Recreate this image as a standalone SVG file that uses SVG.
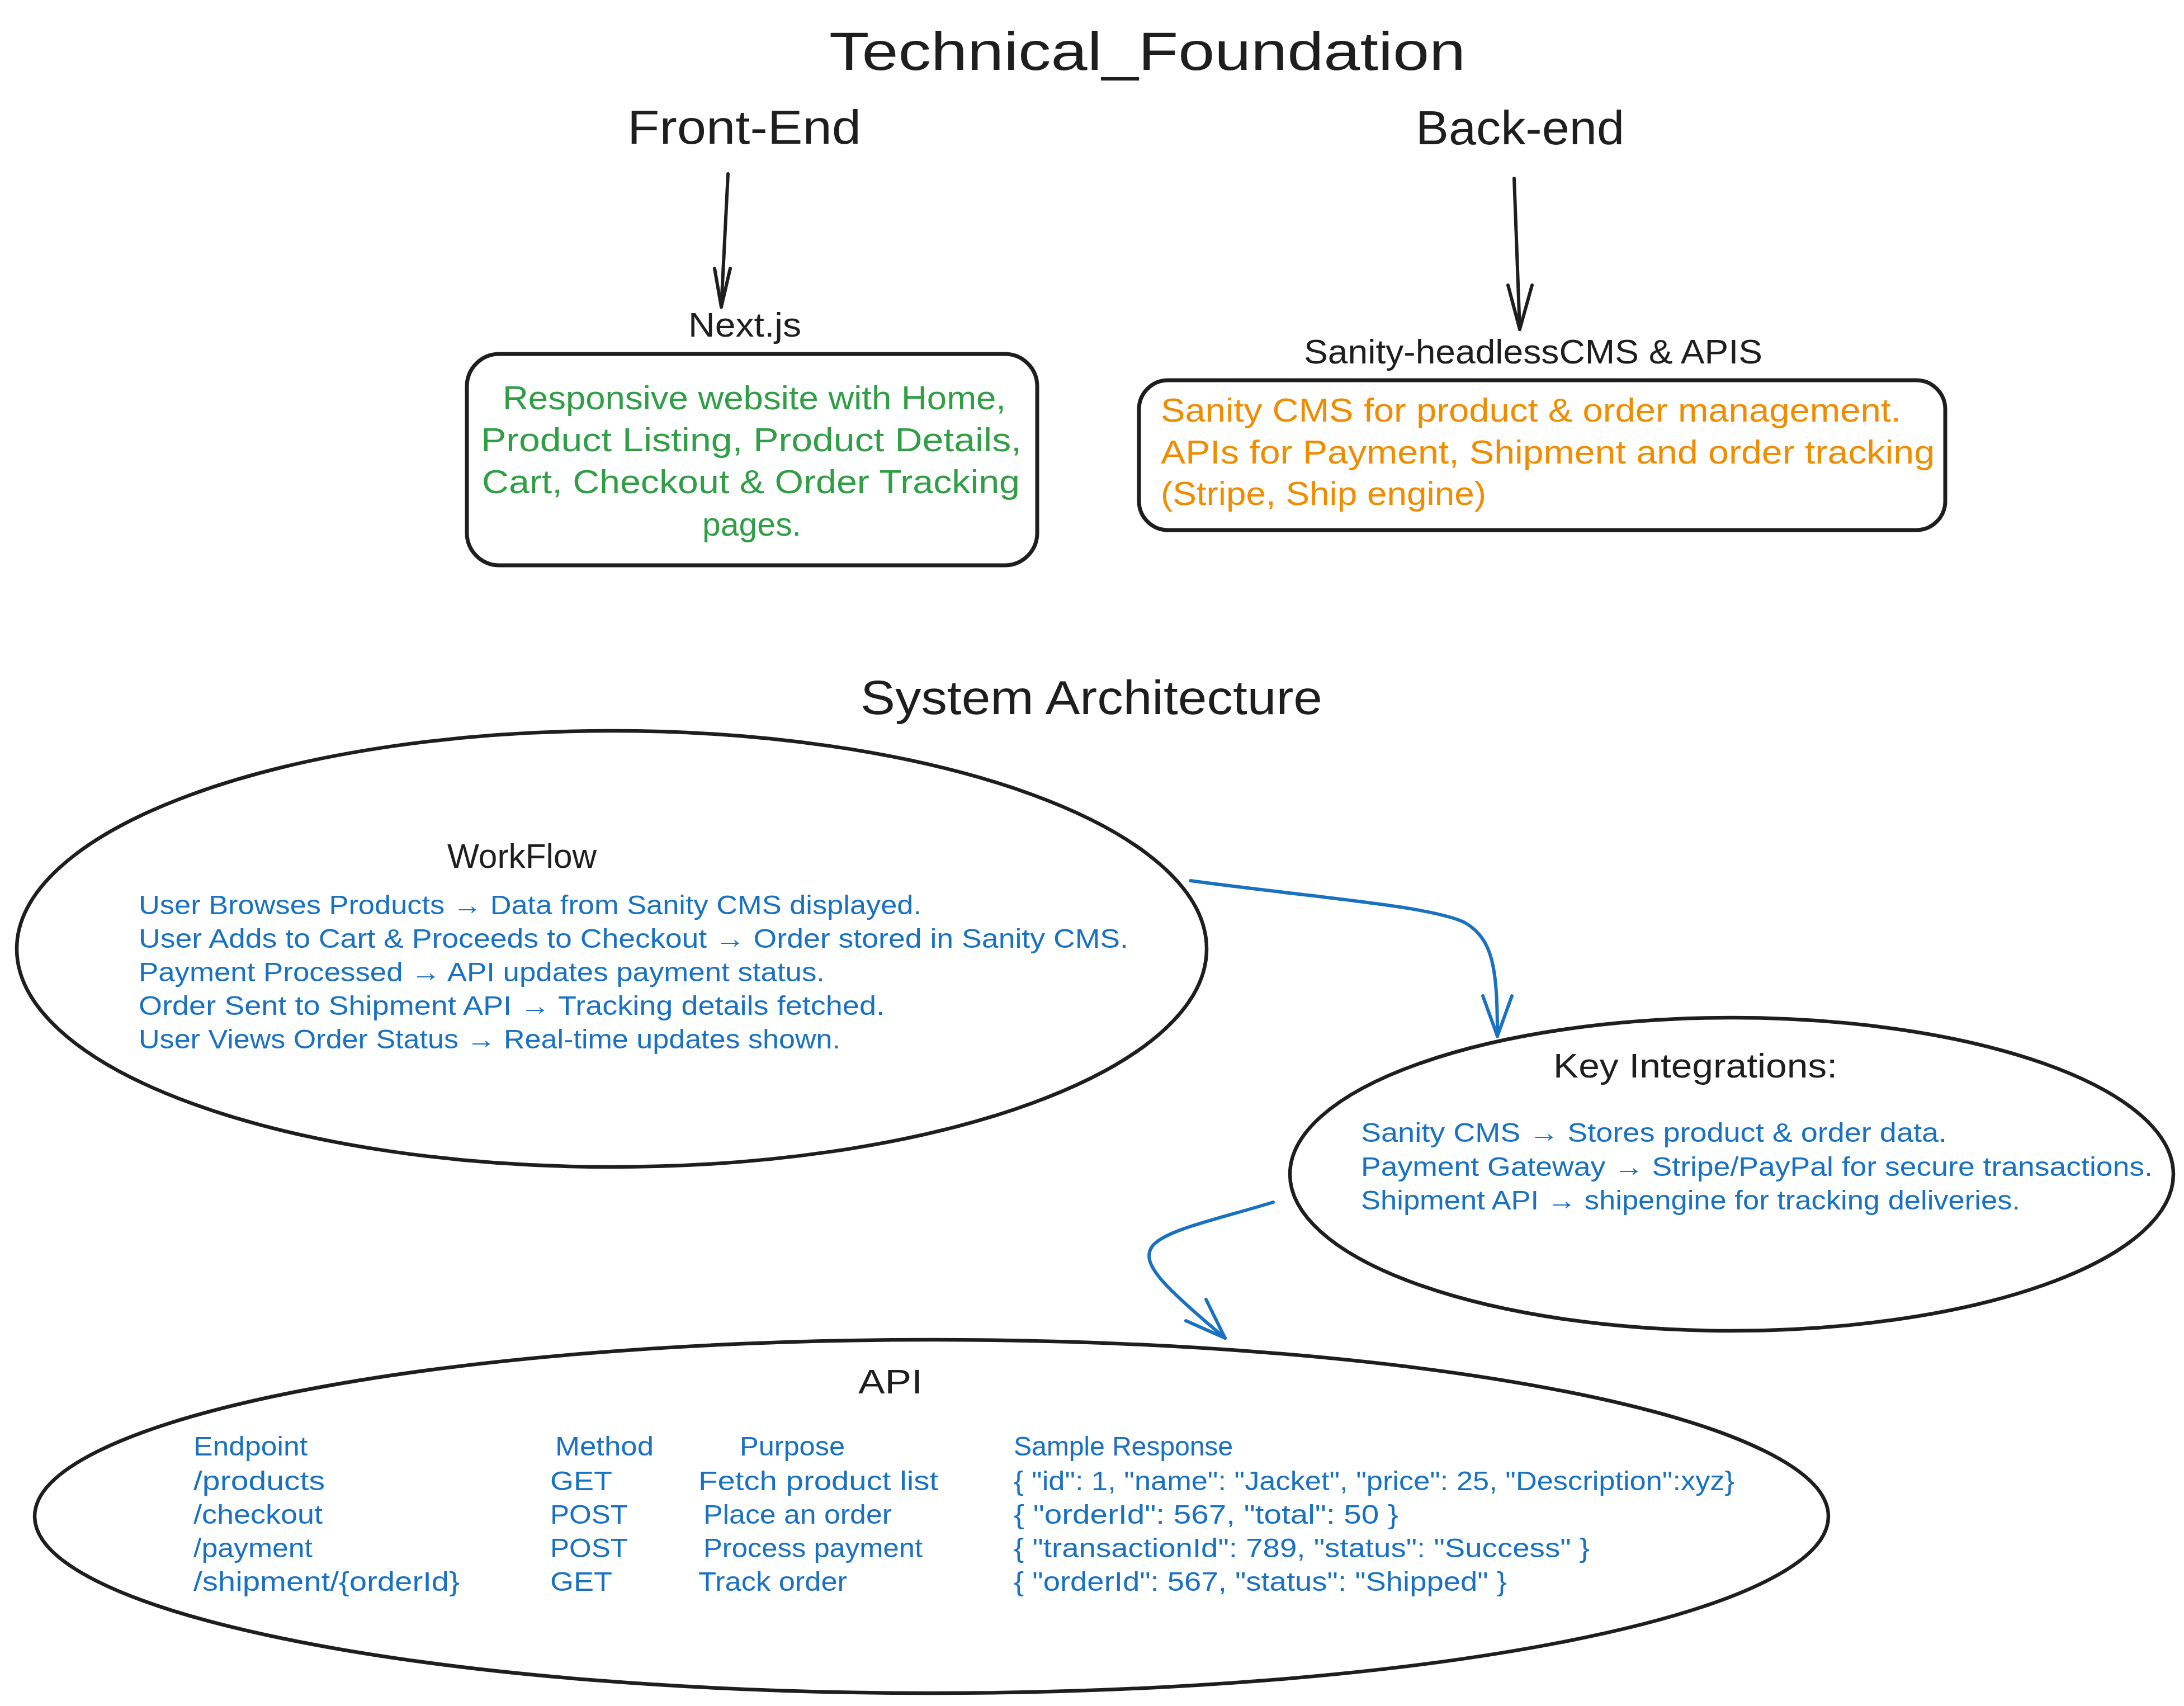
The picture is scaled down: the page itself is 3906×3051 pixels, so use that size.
<svg xmlns="http://www.w3.org/2000/svg" width="3906" height="3051" viewBox="0 0 3906 3051">
<style>
text { font-family: "Liberation Sans", "DejaVu Sans", sans-serif; }
.k { fill: #1e1e1e; }
.g { fill: #2f9e44; }
.o { fill: #f08c00; }
.b { fill: #1971c2; }
.h1 { font-size: 96px; }
.h2 { font-size: 86px; }
.h3 { font-size: 62px; }
.t60 { font-size: 60px; }
.t48 { font-size: 48px; }
.shape { fill: #ffffff; stroke: #1e1e1e; stroke-width: 7; }
.ell { fill: none; stroke: #1e1e1e; stroke-width: 6.5; }
.ck { fill: none; stroke: #1e1e1e; stroke-width: 6; stroke-linecap: round; stroke-linejoin: round; }
.cb { fill: none; stroke: #1971c2; stroke-width: 6; stroke-linecap: round; stroke-linejoin: round; }
</style>
<rect width="3906" height="3051" fill="#ffffff"/>

<g id="title">
<text class="k h1" x="1483" y="125" textLength="1138" lengthAdjust="spacingAndGlyphs">Technical_Foundation</text>
</g>

<g id="front-end">
<text class="k h2" x="1122" y="257" textLength="418" lengthAdjust="spacingAndGlyphs">Front-End</text>
</g>

<g id="back-end">
<text class="k h2" x="2532" y="258" textLength="373" lengthAdjust="spacingAndGlyphs">Back-end</text>
</g>

<g id="nextjs">
<text class="k h3" x="1231" y="602" textLength="202" lengthAdjust="spacingAndGlyphs">Next.js</text>
<rect class="shape" x="835" y="633" width="1020" height="378" rx="58" ry="58"/>
<text class="g t60" x="899" y="732" textLength="900" lengthAdjust="spacingAndGlyphs">Responsive website with Home,</text>
<text class="g t60" x="860" y="807" textLength="967" lengthAdjust="spacingAndGlyphs">Product Listing, Product Details,</text>
<text class="g t60" x="862" y="882" textLength="962" lengthAdjust="spacingAndGlyphs">Cart, Checkout &amp; Order Tracking</text>
<text class="g t60" x="1256" y="958" textLength="177" lengthAdjust="spacingAndGlyphs">pages.</text>
</g>

<g id="sanity">
<text class="k h3" x="2332" y="650" textLength="820" lengthAdjust="spacingAndGlyphs">Sanity-headlessCMS &amp; APIS</text>
<rect class="shape" x="2037" y="680" width="1442" height="268" rx="52" ry="52"/>
<text class="o t60" x="2076" y="754" textLength="1324" lengthAdjust="spacingAndGlyphs">Sanity CMS for product &amp; order management.</text>
<text class="o t60" x="2076" y="829" textLength="1384" lengthAdjust="spacingAndGlyphs">APIs for Payment, Shipment and order tracking</text>
<text class="o t60" x="2076" y="903" textLength="582" lengthAdjust="spacingAndGlyphs">(Stripe, Ship engine)</text>
</g>

<g id="system-architecture">
<text class="k h2" x="1539" y="1277" textLength="826" lengthAdjust="spacingAndGlyphs">System Architecture</text>
</g>

<g id="workflow">
<ellipse class="ell" cx="1094" cy="1697" rx="1064" ry="390"/>
<text class="k h3" x="800" y="1552" textLength="267" lengthAdjust="spacingAndGlyphs">WorkFlow</text>
<text class="b t48" x="248" y="1635" textLength="1400" lengthAdjust="spacingAndGlyphs">User Browses Products → Data from Sanity CMS displayed.</text>
<text class="b t48" x="248" y="1695" textLength="1770" lengthAdjust="spacingAndGlyphs">User Adds to Cart &amp; Proceeds to Checkout → Order stored in Sanity CMS.</text>
<text class="b t48" x="248" y="1755" textLength="1227" lengthAdjust="spacingAndGlyphs">Payment Processed → API updates payment status.</text>
<text class="b t48" x="248" y="1815" textLength="1334" lengthAdjust="spacingAndGlyphs">Order Sent to Shipment API → Tracking details fetched.</text>
<text class="b t48" x="248" y="1875" textLength="1255" lengthAdjust="spacingAndGlyphs">User Views Order Status → Real-time updates shown.</text>
</g>

<g id="key-integrations">
<ellipse class="ell" cx="3097" cy="2100" rx="790" ry="280"/>
<text class="k h3" x="2778" y="1927" textLength="508" lengthAdjust="spacingAndGlyphs">Key Integrations:</text>
<text class="b t48" x="2434" y="2042" textLength="1048" lengthAdjust="spacingAndGlyphs">Sanity CMS → Stores product &amp; order data.</text>
<text class="b t48" x="2434" y="2103" textLength="1416" lengthAdjust="spacingAndGlyphs">Payment Gateway → Stripe/PayPal for secure transactions.</text>
<text class="b t48" x="2434" y="2163" textLength="1179" lengthAdjust="spacingAndGlyphs">Shipment API → shipengine for tracking deliveries.</text>
</g>

<g id="api">
<ellipse class="ell" cx="1666" cy="2712" rx="1604" ry="316"/>
<text class="k h3" x="1535" y="2492" textLength="115" lengthAdjust="spacingAndGlyphs">API</text>
<text class="b t48" x="346" y="2603" textLength="204" lengthAdjust="spacingAndGlyphs">Endpoint</text>
<text class="b t48" x="993" y="2603" textLength="176" lengthAdjust="spacingAndGlyphs">Method</text>
<text class="b t48" x="1323" y="2603" textLength="188" lengthAdjust="spacingAndGlyphs">Purpose</text>
<text class="b t48" x="1813" y="2603" textLength="392" lengthAdjust="spacingAndGlyphs">Sample Response</text>
<text class="b t48" x="346" y="2665" textLength="235" lengthAdjust="spacingAndGlyphs">/products</text>
<text class="b t48" x="984" y="2665" textLength="111" lengthAdjust="spacingAndGlyphs">GET</text>
<text class="b t48" x="1249" y="2665" textLength="429" lengthAdjust="spacingAndGlyphs">Fetch product list</text>
<text class="b t48" x="1813" y="2665" textLength="1289" lengthAdjust="spacingAndGlyphs">{ "id": 1, "name": "Jacket", "price": 25, "Description":xyz}</text>
<text class="b t48" x="346" y="2725" textLength="231" lengthAdjust="spacingAndGlyphs">/checkout</text>
<text class="b t48" x="984" y="2725" textLength="139" lengthAdjust="spacingAndGlyphs">POST</text>
<text class="b t48" x="1258" y="2725" textLength="337" lengthAdjust="spacingAndGlyphs">Place an order</text>
<text class="b t48" x="1813" y="2725" textLength="688" lengthAdjust="spacingAndGlyphs">{ "orderId": 567, "total": 50 }</text>
<text class="b t48" x="346" y="2785" textLength="213" lengthAdjust="spacingAndGlyphs">/payment</text>
<text class="b t48" x="984" y="2785" textLength="139" lengthAdjust="spacingAndGlyphs">POST</text>
<text class="b t48" x="1258" y="2785" textLength="392" lengthAdjust="spacingAndGlyphs">Process payment</text>
<text class="b t48" x="1813" y="2785" textLength="1030" lengthAdjust="spacingAndGlyphs">{ "transactionId": 789, "status": "Success" }</text>
<text class="b t48" x="346" y="2845" textLength="476" lengthAdjust="spacingAndGlyphs">/shipment/{orderId}</text>
<text class="b t48" x="984" y="2845" textLength="111" lengthAdjust="spacingAndGlyphs">GET</text>
<text class="b t48" x="1249" y="2845" textLength="266" lengthAdjust="spacingAndGlyphs">Track order</text>
<text class="b t48" x="1813" y="2845" textLength="882" lengthAdjust="spacingAndGlyphs">{ "orderId": 567, "status": "Shipped" }</text>
</g>

<g id="connectors">
<path class="ck" d="M1302 311 L1290 549"/>
<path class="ck" d="M1278 480 L1290 549 L1306 480"/>
<path class="ck" d="M2708 319 L2718 589"/>
<path class="ck" d="M2697 510 L2718 589 L2740 510"/>
<path class="cb" d="M2129 1575 C2350 1605 2560 1620 2620 1650 C2670 1680 2678 1730 2678 1853"/>
<path class="cb" d="M2652 1781 L2678 1853 L2704 1781"/>
<path class="cb" d="M2277 2150 C2180 2180 2080 2200 2060 2230 C2040 2260 2080 2300 2191 2393"/>
<path class="cb" d="M2157 2324 L2191 2393 L2121 2362"/>
</g>
</svg>
